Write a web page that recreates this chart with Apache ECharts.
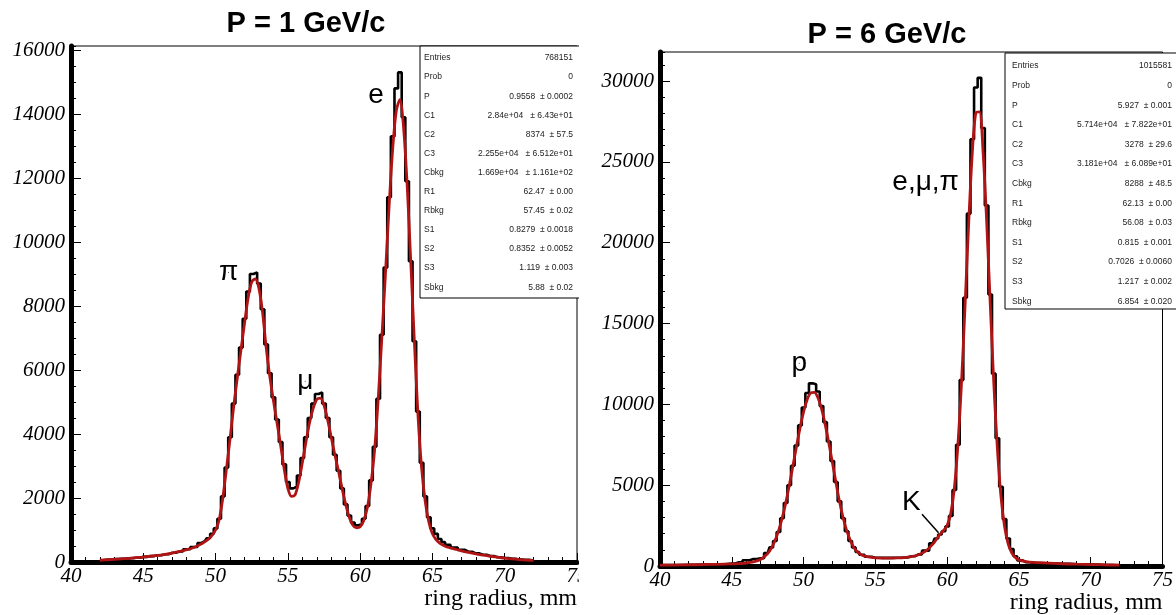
<!DOCTYPE html>
<html><head><meta charset="utf-8">
<script src="https://cdn.jsdelivr.net/npm/echarts@6/dist/echarts.min.js"></script>
<style>html,body{margin:0;padding:0;background:#fff}#c{width:1176px;height:615px}</style>
</head><body><div id="c"></div>
<script>
// ---------- data ----------
const titles = ['P = 1 GeV/c', 'P = 6 GeV/c'];
const xAxisName = 'ring radius, mm';

// P = 1 GeV/c : ring radius (mm) of bin centres
const leftX = [42,42.5,43,43.5,44,44.5,45,45.5,46,46.5,47,47.5,48,48.5,
  49,49.25,49.5,49.75,50,50.25,50.5,50.75,51,51.25,51.5,51.75,52,52.25,52.5,52.75,53,53.25,53.5,53.75,
  54,54.25,54.5,54.75,55,55.25,55.5,55.75,56,56.25,56.5,56.75,57,57.25,57.5,57.75,58,58.25,58.5,58.75,
  59,59.25,59.5,59.75,60,60.25,60.5,60.75,61,61.25,61.5,61.75,62,62.25,62.5,62.75,63,63.25,63.5,63.75,
  64,64.25,64.5,64.75,65,65.25,65.5,65.75,66,
  66.5,67,67.5,68,68.5,69,69.5,70,70.5,71,71.5,72];
const leftHist = [50,70,90,100,115,135,160,185,210,240,290,330,400,470,
  590,650,740,880,1050,1350,2050,2950,3900,4950,5850,6700,7600,8450,9000,9050,8700,7900,6800,5900,
  5150,4450,3750,3050,2500,2300,2350,2700,3250,3900,4500,4950,5250,5300,4950,4500,3900,3350,2850,2300,
  1800,1450,1230,1150,1180,1350,1750,2550,3600,5100,7100,9200,11400,13300,14800,15300,13900,11900,9400,6900,
  4700,3100,2050,1400,1050,880,720,620,540,
  450,380,320,270,225,185,150,125,100,80,65,50];
const leftFit = [55,70,85,100,115,135,155,180,205,240,280,330,385,455,
  560,630,710,830,1000,1320,2000,2900,3850,4850,5750,6600,7450,8250,8750,8850,8550,7800,6700,5800,
  5050,4350,3650,2900,2300,2050,2100,2500,3100,3750,4350,4800,5080,5120,4900,4450,3900,3350,2850,2300,
  1800,1400,1150,1070,1100,1300,1700,2450,3500,5100,7000,9000,11100,12900,14100,14450,13600,11800,9400,6900,
  4600,2950,1900,1250,880,700,590,520,470,
  410,350,300,255,215,180,150,120,95,75,60,50];

// P = 6 GeV/c
const rightX = [40,41,42,43,44,45,45.5,46,46.5,47,47.5,47.75,
  48,48.25,48.5,48.75,49,49.25,49.5,49.75,50,50.25,50.5,50.75,51,51.25,51.5,51.75,52,52.25,52.5,52.75,53,53.25,53.5,53.75,54,
  54.5,55,55.5,56,56.5,57,57.5,58,58.5,
  59,59.25,59.5,59.75,60,60.25,60.5,60.75,61,61.25,61.5,61.75,62,62.25,62.5,62.75,63,63.25,63.5,63.75,64,64.25,64.5,64.75,65,
  65.5,66,67,68,69,70,71,72];
const rightHist = [60,65,75,90,110,150,230,360,430,480,800,1150,
  1550,2100,2950,3900,5000,6200,7450,8700,9800,10700,11300,11250,10800,9900,8900,7700,6500,5200,4000,2950,2150,1550,1150,870,700,
  570,510,500,500,510,530,600,720,950,
  1400,1700,1950,2150,2450,3100,4700,7500,11500,16600,21800,26400,29600,30200,27100,22300,16800,11900,7900,4900,2900,1700,1050,600,350,
  230,190,160,130,105,85,65,50];
const rightFit = [50,60,70,85,105,130,150,180,250,400,770,1100,
  1550,2160,2930,3870,4960,6150,7360,8530,9540,10290,10710,10740,10410,9740,8780,7650,6440,5200,4000,3000,2200,1600,1150,880,700,
  560,500,490,490,500,520,580,700,920,
  1350,1650,1950,2200,2500,3240,4790,7480,11320,16150,21200,25530,28040,28100,25650,21370,16260,11310,7260,4290,2440,1370,820,520,380,
  270,220,180,140,110,90,70,55];

// axis ranges / ticks
const xRange = [40, 75], xMajor = 5, xMinorSplit = 5;
const leftYMax = 16125, leftYMajor = 2000, leftYMinor = 500;
const rightYMax = 31800, rightYMajor = 5000, rightYMinor = 1000;

// fit-statistics boxes
const statNames = ['Entries','Prob','P','C1','C2','C3','Cbkg','R1','Rbkg','S1','S2','S3','Sbkg'];
const leftStats = ['768151','0','0.9558  \u00b1 0.0002','2.84e+04   \u00b1 6.43e+01','8374  \u00b1 57.5',
  '2.255e+04   \u00b1 6.512e+01','1.669e+04   \u00b1 1.161e+02','62.47  \u00b1 0.00','57.45  \u00b1 0.02',
  '0.8279  \u00b1 0.0018','0.8352  \u00b1 0.0052','1.119  \u00b1 0.003','5.88  \u00b1 0.02'];
const rightStats = ['1015581','0','5.927  \u00b1 0.001','5.714e+04   \u00b1 7.822e+01','3278  \u00b1 29.6',
  '3.181e+04   \u00b1 6.089e+01','8288  \u00b1 48.5','62.13  \u00b1 0.00','56.08  \u00b1 0.03',
  '0.815  \u00b1 0.001','0.7026  \u00b1 0.0060','1.217  \u00b1 0.002','6.854  \u00b1 0.020'];

// peak labels
const leftPeakLabels = ['\u03c0', '\u03bc', 'e'];
const rightPeakLabels = ['p', 'K', 'e,\u03bc,\u03c0'];

// ---------- chart ----------
const chart = echarts.init(document.getElementById('c'), null, {renderer: 'canvas'});
const zip = (xs, ys) => xs.map((x, i) => [x, ys[i]]);
const BLACK = '#000', RED = '#b01414';
const serif = 'Liberation Serif', sans = 'Liberation Sans';
const plain = v => String(v);

function mkX(g) {
  return {
    type: 'value', gridIndex: g, position: 'bottom', min: xRange[0], max: xRange[1], interval: xMajor,
    axisLine: {onZero: false, lineStyle: {color: BLACK, width: 5}},
    axisTick: {inside: true, length: 9, lineStyle: {color: BLACK, width: 1}},
    minorTick: {show: true, splitNumber: xMinorSplit, length: 5, lineStyle: {color: BLACK, width: 1}},
    splitLine: {show: false}, minorSplitLine: {show: false},
    axisLabel: {formatter: plain, fontFamily: serif, fontStyle: 'italic', fontSize: 21, color: BLACK, margin: 4},
    name: xAxisName, nameLocation: 'end', nameGap: 0,
    nameTextStyle: {fontFamily: serif, fontSize: 24, color: BLACK, align: 'right', verticalAlign: 'top', padding: [25, 0, 0, 0]}
  };
}
function mkY(g, max, interval, major) {
  return {
    type: 'value', gridIndex: g, position: 'left', offset: 0, min: 0, max: max, interval: interval,
    axisLine: {show: major, onZero: false, lineStyle: {color: BLACK, width: 5}},
    axisTick: {inside: true, length: major ? 10 : 5, lineStyle: {color: BLACK, width: 1}},
    splitLine: {show: false},
    axisLabel: {show: major, showMaxLabel: false, formatter: plain, fontFamily: serif, fontStyle: 'italic', fontSize: 21, color: BLACK, margin: 6}
  };
}

function statBox(x, y, w, h, names, vals, nameX, valX, y0, dy) {
  const els = [{type: 'rect', z: 100, shape: {x: x, y: y, width: w, height: h},
    style: {fill: '#fff', stroke: '#000', lineWidth: 1}}];
  names.forEach((n, i) => {
    els.push({type: 'text', z: 101, x: nameX, y: y0 + i * dy,
      style: {text: n, fill: '#222', font: '8.5px "Liberation Sans"', align: 'left', verticalAlign: 'middle', textAlign: 'left', textVerticalAlign: 'middle'}});
    els.push({type: 'text', z: 101, x: valX, y: y0 + i * dy,
      style: {text: vals[i], fill: '#222', font: '8.5px "Liberation Sans"', align: 'right', verticalAlign: 'middle', textAlign: 'right', textVerticalAlign: 'middle'}});
  });
  return els;
}

const annLabel = {show: true, position: 'inside', formatter: '{b}', fontFamily: sans, fontSize: 28,
  color: '#000', opacity: 1, textBorderWidth: 0};

const option = {
  animation: false,
  backgroundColor: '#fff',
  title: [
    {text: titles[0], left: 306, top: 9, textAlign: 'center', padding: 0,
     textStyle: {fontFamily: sans, fontWeight: 'bold', fontSize: 29, color: BLACK}},
    {text: titles[1], left: 887, top: 20, textAlign: 'center', padding: 0,
     textStyle: {fontFamily: sans, fontWeight: 'bold', fontSize: 29, color: BLACK}}
  ],
  grid: [
    {left: 71, top: 46, width: 506, height: 516, show: true, borderColor: BLACK, borderWidth: 1, backgroundColor: 'transparent'},
    {left: 660, top: 52, width: 509, height: 517, show: true, borderColor: BLACK, borderWidth: 1, backgroundColor: 'transparent'}
  ],
  xAxis: [mkX(0), mkX(1)],
  yAxis: [
    mkY(0, leftYMax, leftYMajor, true), mkY(0, leftYMax, leftYMinor, false),
    mkY(1, rightYMax, rightYMajor, true), mkY(1, rightYMax, rightYMinor, false)
  ],
  series: [
    {type: 'line', name: 'data P=1', xAxisIndex: 0, yAxisIndex: 0, data: zip(leftX, leftHist), step: 'middle',
     showSymbol: false, lineStyle: {color: BLACK, width: 2.6}, z: 3},
    {type: 'line', name: 'fit P=1', xAxisIndex: 0, yAxisIndex: 0, data: zip(leftX, leftFit), smooth: 0.3,
     showSymbol: false, lineStyle: {color: RED, width: 2.8}, z: 4},
    {type: 'line', name: 'data P=6', xAxisIndex: 1, yAxisIndex: 2, data: zip(rightX, rightHist), step: 'middle',
     showSymbol: false, lineStyle: {color: BLACK, width: 2.6}, z: 3},
    {type: 'line', name: 'fit P=6', xAxisIndex: 1, yAxisIndex: 2, data: zip(rightX, rightFit), smooth: 0.3,
     showSymbol: false, lineStyle: {color: RED, width: 2.8}, z: 4},
    {type: 'scatter', xAxisIndex: 0, yAxisIndex: 0, symbolSize: 1, itemStyle: {color: '#000'}, label: annLabel, z: 5,
     data: [{name: leftPeakLabels[0], value: [50.9, 9050]}, {name: leftPeakLabels[1], value: [56.2, 5650]},
            {name: leftPeakLabels[2], value: [61.1, 14600]}]},
    {type: 'scatter', xAxisIndex: 1, yAxisIndex: 2, symbolSize: 1, itemStyle: {color: '#000'}, label: annLabel, z: 5,
     data: [{name: rightPeakLabels[0], value: [49.7, 12550]}, {name: rightPeakLabels[1], value: [57.5, 3950]},
            {name: rightPeakLabels[2], value: [58.5, 23750]}],
     markLine: {silent: true, symbol: 'none', label: {show: false},
       lineStyle: {color: BLACK, width: 1.5, type: 'solid'},
       data: [[{coord: [58.25, 3200]}, {coord: [59.4, 2050]}]]}}
  ],
  graphic: [].concat(
    statBox(420, 46, 175, 252, statNames, leftStats, 424, 573, 58, 19.1),
    statBox(1005, 53, 180, 256, statNames, rightStats, 1012, 1172, 66, 19.6),
    [{type: 'rect', z: 120, shape: {x: 579, y: 0, width: 19, height: 615}, style: {fill: '#fff'}}]
  )
};
chart.setOption(option);
</script></body></html>
